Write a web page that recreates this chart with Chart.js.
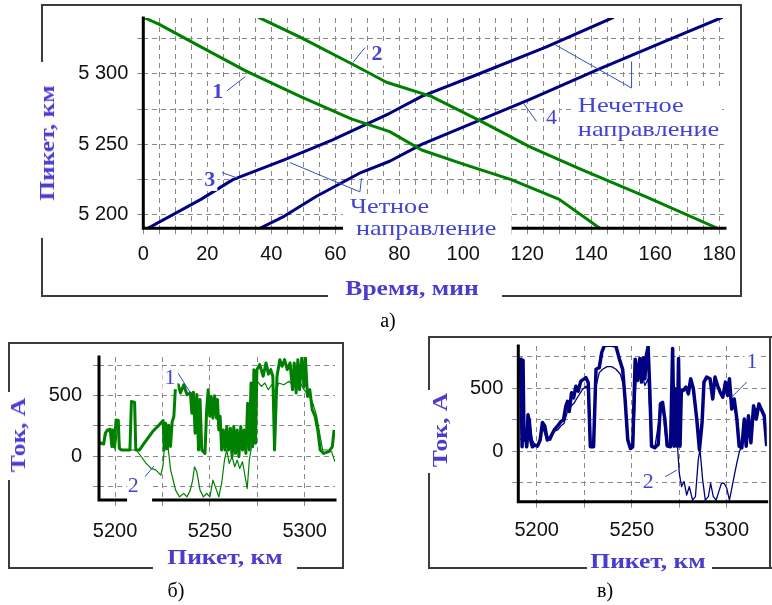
<!DOCTYPE html>
<html lang="ru">
<head>
<meta charset="utf-8">
<title>Графики движения и токи</title>
<script src="https://cdn.jsdelivr.net/npm/chart.js@4.4.1/dist/chart.umd.min.js"></script>
<style>
  html, body { margin: 0; padding: 0; background: #fff; }
  #fig { position: relative; width: 772px; height: 605px; overflow: hidden; }
  #fig canvas { position: absolute; }
  .seg { position: absolute; background: #3c3c3c; }
  .title {
    position: absolute; white-space: nowrap; line-height: 1;
    transform: translate(-50%, -50%) scaleX(1.16);
    font: bold 22px "Liberation Serif", "Times New Roman", serif; color: #4b3ccf;
  }
  .title.vert { transform: translate(-50%, -50%) rotate(-90deg) scaleX(1.16); }
  .cap {
    position: absolute; line-height: 1; transform: translate(-50%, -50%);
    font: 20px "Liberation Serif", "Times New Roman", serif; color: #000;
  }
</style>
</head>
<body>
<div id="fig">
  <!-- frames: а) -->
  <div class="seg" style="left:41px;top:4px;width:701px;height:2px"></div>
  <div class="seg" style="left:740px;top:4px;width:2px;height:293px"></div>
  <div class="seg" style="left:41px;top:295px;width:287px;height:2px"></div>
  <div class="seg" style="left:502px;top:295px;width:240px;height:2px"></div>
  <div class="seg" style="left:41px;top:4px;width:2px;height:58px"></div>
  <div class="seg" style="left:41px;top:238px;width:2px;height:59px"></div>
  <!-- б) -->
  <div class="seg" style="left:8px;top:342px;width:336px;height:2px"></div>
  <div class="seg" style="left:342px;top:342px;width:2px;height:227px"></div>
  <div class="seg" style="left:8px;top:567px;width:145px;height:2px"></div>
  <div class="seg" style="left:297px;top:567px;width:47px;height:2px"></div>
  <div class="seg" style="left:8px;top:342px;width:2px;height:50px"></div>
  <div class="seg" style="left:8px;top:480px;width:2px;height:89px"></div>
  <!-- в) -->
  <div class="seg" style="left:428px;top:336px;width:344px;height:2px"></div>
  <div class="seg" style="left:769px;top:336px;width:2px;height:233px"></div>
  <div class="seg" style="left:428px;top:567px;width:159px;height:2px"></div>
  <div class="seg" style="left:712px;top:567px;width:60px;height:2px"></div>
  <div class="seg" style="left:428px;top:336px;width:2px;height:54px"></div>
  <div class="seg" style="left:428px;top:473px;width:2px;height:96px"></div>

  <canvas id="chartA" width="700" height="291" style="left:41px;top:5px;width:700px;height:291px"></canvas>
  <canvas id="chartB" width="335" height="225" style="left:8px;top:343px;width:335px;height:225px"></canvas>
  <canvas id="chartC" width="344" height="231" style="left:428px;top:337px;width:344px;height:231px"></canvas>

  <div class="title vert" style="left:47px;top:143px">Пикет, км</div>
  <div class="title" style="left:412px;top:288px">Время, мин</div>
  <div class="title vert" style="left:18px;top:435px">Ток, А</div>
  <div class="title" style="left:225px;top:557px">Пикет, км</div>
  <div class="title vert" style="left:440px;top:430px">Ток, А</div>
  <div class="title" style="left:648px;top:561px">Пикет, км</div>

  <div class="cap" style="left:388px;top:320px">а)</div>
  <div class="cap" style="left:176px;top:590px">б)</div>
  <div class="cap" style="left:605px;top:590px">в)</div>
</div>

<script>
// а) train paths: time, min -> picket, km
const A_T1 = [0, 5, 18, 32, 49, 65, 77, 87, 100, 115, 130, 143];
const A_KM1 = [5340, 5335, 5319, 5302, 5284, 5268, 5259, 5246, 5236, 5225, 5211, 5190];
const A_T2 = [36, 49, 66, 76, 90, 105, 121, 137, 157, 180];
const A_KM2 = [5340, 5326, 5306, 5294, 5284, 5267, 5248, 5232, 5213, 5190];
const A_T3 = [1, 18, 28, 44, 59, 77, 87, 105, 126, 147];
const A_KM3 = [5190, 5211, 5225, 5239, 5253, 5272, 5284, 5300, 5319, 5340];
const A_T4 = [36, 44, 54, 68, 77, 87, 105, 121, 142, 163, 181];
const A_KM4 = [5190, 5199, 5213, 5230, 5238, 5250, 5267, 5282, 5303, 5323, 5340];

const A_X_GRID = [0, 5, 10, 15, 20, 25, 30, 35, 40, 45, 50, 55, 60, 65, 70, 75, 80, 85, 90,
  95, 100, 105, 110, 115, 120, 125, 130, 135, 140, 145, 150, 155, 160, 165, 170, 175, 180];
const A_X_LABELS = [0, 20, 40, 60, 80, 100, 120, 140, 160, 180];
const A_Y_GRID = [5200, 5225, 5250, 5275, 5300, 5325];
const A_Y_LABELS = [5200, 5250, 5300];

// б) current of the even-direction trains: picket, km -> current, A
const B_KM1 = [5190.5, 5192.2, 5194.0, 5194.8, 5196.0, 5197.4, 5198.3, 5198.8, 5199.5, 5200.5,
  5201.7, 5202.2, 5203.4, 5207.8, 5208.6, 5210.3, 5210.9, 5212.9, 5214.7, 5217.2,
  5219.8, 5223.3, 5225.3, 5225.9, 5226.7, 5227.5, 5228.3, 5229.2, 5230.1, 5231.0,
  5231.9, 5233.3, 5234.5, 5236.2, 5237.9, 5239.7, 5240.5, 5241.3, 5242.2, 5243.1,
  5244.0, 5244.8, 5245.7, 5247.4, 5248.3, 5249.1, 5249.9, 5250.7, 5251.6, 5252.5,
  5253.5, 5254.0, 5254.7, 5255.4, 5256.2, 5257.1, 5258.0, 5258.9, 5259.8, 5260.8,
  5261.7, 5262.6, 5263.5, 5264.4, 5265.3, 5266.3, 5267.2, 5268.1, 5269.0, 5269.9,
  5270.8, 5271.7, 5272.6, 5273.2, 5274.1, 5274.8, 5276.3, 5278.1, 5279.6, 5280.9,
  5282.1, 5283.2, 5284.1, 5285.4, 5286.9, 5288.1, 5289.4, 5290.8, 5292.3, 5293.6,
  5294.5, 5295.5, 5296.4, 5297.3, 5298.5, 5299.6, 5300.4, 5301.5, 5302.7, 5304.0,
  5305.5, 5306.9, 5308.2, 5310.0, 5312.8, 5314.6, 5315.5];
const B_I1 = [92, 106, 100, 189, 217, 222, 78, 217, 78, 300,
  295, 64, 50, 50, 453, 445, 50, 50, 92, 147,
  203, 259, 295, 50, 272, 60, 255, 80, 285, 328,
  592, 592, 523, 592, 509, 523, 356, 530, 189, 510,
  50, 470, 50, 22, 384, 550, 330, 495, 314, 500,
  314, 470, 217, 330, 50, 217, 50, 245, 50, 231,
  -6, 245, 22, 217, -6, 245, 50, 217, 22, 439,
  50, 606, 78, 717, 106, 717, 759, 662, 773, 680,
  717, 662, 50, 662, 800, 745, 800, 717, 773, 550,
  773, 523, 800, 550, 828, 578, 814, 495, 550, 384,
  328, 217, 50, 22, 36, 78, 217];
const B_KM2 = [5190.5, 5194.0, 5195.7, 5198.3, 5200.0, 5201.7, 5202.6, 5211.2, 5213.8, 5216.4,
  5219.0, 5221.6, 5224.1, 5225.3, 5226.4, 5227.1, 5228.1, 5229.3, 5230.2, 5231.9,
  5234.0, 5236.2, 5237.9, 5239.7, 5240.9, 5241.9, 5243.1, 5244.8, 5246.6, 5248.3,
  5250.0, 5251.6, 5253.5, 5254.7, 5256.2, 5257.7, 5258.9, 5260.2, 5261.7, 5263.1,
  5264.4, 5265.7, 5267.2, 5268.6, 5269.7, 5270.8, 5272.3, 5273.7, 5275.0, 5277.2,
  5279.0, 5280.8, 5282.7, 5284.5, 5286.3, 5289.0, 5291.8, 5294.5, 5297.3, 5299.1,
  5300.9, 5302.7, 5304.6, 5306.4, 5308.2, 5309.5, 5311.9, 5314.2, 5315.9];
const B_I2 = [120, 111, 203, 217, 50, 286, 50, 50, -6, -61,
  -103, -117, -158, -75, 189, 217, 50, -117, -172, -283,
  -339, -311, -339, -283, -200, -89, -131, -283, -339, -311,
  -339, -200, -283, -339, -228, -33, 50, -61, -6, -89,
  -33, -103, -47, -172, -270, -33, 106, 467, 620, 578,
  606, 550, 592, 523, 606, 592, 620, 578, 620, 564,
  523, 495, 425, 328, 161, 50, 50, 36, -47];

// в) current of the odd-direction trains
const C_KM1 = [5191.5, 5192.3, 5192.8, 5193.3, 5194.0, 5194.7, 5195.4, 5196.1, 5196.8, 5197.7,
  5198.9, 5200.4, 5201.8, 5203.0, 5204.2, 5205.6, 5207.4, 5209.2, 5211.0, 5212.7,
  5214.1, 5215.3, 5216.2, 5217.1, 5218.3, 5219.4, 5220.6, 5221.8, 5223.2, 5224.6,
  5225.9, 5227.1, 5228.2, 5229.9, 5231.2, 5232.9, 5234.2, 5235.6, 5239.1, 5241.7,
  5243.5, 5245.2, 5246.5, 5247.9, 5249.3, 5250.5, 5251.8, 5253.0, 5254.2, 5255.1,
  5256.0, 5256.9, 5257.7, 5258.6, 5259.5, 5260.4, 5262.1, 5263.9, 5265.1, 5266.2,
  5267.4, 5268.7, 5270.4, 5271.5, 5272.3, 5273.1, 5273.9, 5274.6, 5275.4, 5276.1,
  5277.1, 5278.5, 5279.8, 5281.0, 5282.4, 5284.2, 5285.6, 5287.0, 5288.0, 5289.4,
  5291.2, 5292.6, 5293.8, 5295.1, 5296.5, 5297.9, 5299.3, 5300.4, 5301.4, 5302.6,
  5303.9, 5305.3, 5306.5, 5307.9, 5309.2, 5310.2, 5311.4, 5312.7, 5314.1, 5315.5,
  5316.9, 5318.5, 5319.7, 5321.0];
const C_I1 = [742, 35, 720, 88, 142, 35, 288, 240, 88, 35,
  48, 40, 88, 227, 200, 88, 115, 168, 200, 235,
  248, 355, 395, 315, 462, 422, 515, 475, 555, 569,
  582, 542, 35, 35, 649, 662, 782, 836, 841, 830,
  729, 649, 408, 88, 21, 35, 729, 560, 734, 547,
  740, 574, 760, 828, 480, 40, 27, 53, 374, 387,
  254, 40, 35, 814, 40, 494, 40, 734, 40, 480,
  481, 507, 454, 574, 494, 254, 13, 227, 547, 587,
  574, 414, 587, 521, 467, 427, 547, 441, 574, 334,
  414, 254, 40, 27, 254, 40, 280, 67, 360, 254,
  374, 320, 280, 40];
const C_KM2 = [5191.5, 5193.3, 5195.1, 5196.5, 5197.7, 5199.5, 5201.2, 5203.0, 5205.3, 5207.4,
  5208.8, 5211.0, 5212.7, 5214.4, 5216.2, 5218.0, 5219.7, 5221.8, 5224.1, 5225.9,
  5227.1, 5228.2, 5229.9, 5231.2, 5232.9, 5234.7, 5237.0, 5239.4, 5241.7, 5244.0,
  5245.8, 5247.2, 5248.2, 5249.6, 5250.9, 5252.3, 5255.1, 5256.9, 5258.6, 5260.4,
  5262.1, 5264.4, 5266.2, 5268.3, 5270.4, 5271.8, 5273.6, 5275.0, 5276.2, 5277.5,
  5278.9, 5280.3, 5282.0, 5283.5, 5285.0, 5285.9, 5287.3, 5288.7, 5290.3, 5291.5,
  5292.9, 5294.4, 5295.8, 5297.2, 5298.6, 5300.0, 5301.4, 5302.8, 5304.2, 5305.3,
  5306.7, 5307.9, 5309.7, 5311.4, 5313.2, 5315.0, 5317.3, 5319.4, 5321.0];
const C_I2 = [88, 142, 35, 222, 88, 40, 61, 195, 88, 88,
  155, 168, 200, 222, 315, 355, 382, 435, 489, 515,
  480, 35, 35, 515, 622, 649, 670, 670, 649, 609,
  515, 248, 61, 29, 88, 569, 627, 520, 574, 40,
  27, 254, 360, 40, 35, 360, 147, -174, -280, -240,
  -347, -280, -387, -360, -67, 13, -227, -387, -360, -254,
  -360, -387, -320, -254, -254, -294, -387, -280, -174, -93,
  0, 40, 227, 240, 200, 334, 347, 280, 40];

const BC_X_GRID = [5200, 5225, 5250, 5275, 5300];
const BC_X_LABELS = [5200, 5250, 5300];
const BC_Y_GRID = [-250, 0, 250, 500, 750];
const BC_Y_LABELS = [0, 500];

const GREEN = "#008000";
const NAVY = "#000080";
const GRID = "#8a8a8a";
const NOTE = "#4343d3";
const LEADER = "#2f4fc0";
const TICK_FONT = { family: '"Liberation Sans", Arial, sans-serif', size: 20 };
const SERIF = '"Liberation Serif", "Times New Roman", serif';

function series(xs, ys, color, width) {
  return {
    data: xs.map((x, i) => ({ x, y: ys[i] })),
    borderColor: color,
    borderWidth: width,
    showLine: true,
    pointRadius: 0,
    fill: false,
    tension: 0,
    borderJoinStyle: "round",
  };
}

// Linear axis with fixed grid values and a fixed thickness so the plot box lands where we want
function axis(min, max, gridVals, labelVals, fmt, pad, size, horizontal) {
  return {
    type: "linear",
    min,
    max,
    afterBuildTicks: (s) => {
      s.ticks = gridVals.map((v) => ({ value: v }));
    },
    afterFit: (s) => {
      if (horizontal) s.height = size;
      else s.width = size;
      s.paddingLeft = s.paddingRight = s.paddingTop = s.paddingBottom = 0;
    },
    grid: { color: GRID, lineWidth: 1, drawTicks: true, tickLength: 6, tickColor: GRID },
    border: { display: false, dash: [5, 4] },
    ticks: {
      autoSkip: false,
      maxRotation: 0,
      padding: pad,
      color: "#111",
      font: TICK_FONT,
      callback: (v) => (labelVals.includes(v) ? fmt(v) : ""),
    },
  };
}

// Thick axes, white masks under captions, leader lines and numbers
const notesPlugin = {
  id: "notes",
  afterDatasetsDraw(chart, args, opts) {
    const { ctx, chartArea: a } = chart;
    const px = (v) => chart.scales.x.getPixelForValue(v);
    const py = (v) => chart.scales.y.getPixelForValue(v);
    ctx.save();

    ctx.strokeStyle = "#000";
    ctx.lineWidth = 3;
    ctx.lineCap = "square";
    ctx.beginPath();
    ctx.moveTo(a.left, a.top);
    ctx.lineTo(a.left, a.bottom);
    ctx.lineTo(a.right, a.bottom);
    ctx.stroke();

    ctx.fillStyle = "#fff";
    (opts.masks || []).forEach(([x0, y0, x1, y1]) => {
      const l = px(x0), r = px(x1), t = py(y1), b = py(y0);
      ctx.fillRect(l, t, r - l, b - t);
    });

    ctx.strokeStyle = LEADER;
    ctx.lineWidth = 1;
    ctx.lineCap = "butt";
    (opts.leaders || []).forEach((pts) => {
      ctx.beginPath();
      pts.forEach(([vx, vy], i) => {
        if (i) ctx.lineTo(px(vx), py(vy));
        else ctx.moveTo(px(vx), py(vy));
      });
      ctx.stroke();
    });

    (opts.labels || []).forEach((l) => {
      const k = l.stretch || 1;
      ctx.font = `${l.bold ? "bold " : ""}${l.size || 22}px ${SERIF}`;
      ctx.textAlign = l.align || "center";
      ctx.textBaseline = "middle";
      const x = px(l.x), y = py(l.y);
      if (l.bg) {
        const w = ctx.measureText(l.text).width * k;
        const left = l.align === "left" ? x : x - w / 2;
        ctx.fillStyle = "#fff";
        ctx.fillRect(left - 2, y - 11, w + 4, 22);
      }
      ctx.save();
      ctx.translate(x, y);
      ctx.scale(k, 1);
      ctx.fillStyle = NOTE;
      ctx.fillText(l.text, 0, 0);
      ctx.restore();
    });

    ctx.restore();
  },
};

function makeChart(id, cfg) {
  return new Chart(document.getElementById(id), {
    type: "scatter",
    data: { datasets: cfg.datasets },
    options: {
      responsive: false,
      animation: false,
      devicePixelRatio: 1,
      events: [],
      layout: { padding: cfg.padding },
      scales: { x: cfg.x, y: cfg.y },
      plugins: {
        legend: { display: false },
        tooltip: { enabled: false },
        notes: cfg.notes,
      },
    },
    plugins: [notesPlugin],
  });
}

const plain = (v) => String(v);
const spaced = (v) => String(v).replace(/^(\d)(\d{3})$/, "$1 $2");

makeChart("chartA", {
  datasets: [
    series(A_T1, A_KM1, GREEN, 3),
    series(A_T2, A_KM2, GREEN, 3),
    series(A_T3, A_KM3, NAVY, 3),
    series(A_T4, A_KM4, NAVY, 3),
  ],
  padding: { left: 0, top: 13, right: 16, bottom: 0 },
  x: axis(0, 181.8, A_X_GRID, A_X_LABELS, plain, 8, 67.7, true),
  y: axis(5190.5, 5339.5, A_Y_GRID, A_Y_LABELS, spaced, 9, 102.3, false),
  notes: {
    masks: [
      [62.4, 5182.3, 115.1, 5214.2],
      [134.9, 5251.1, 180.9, 5288.7],
    ],
    leaders: [
      [[26.2, 5288], [31.9, 5298]],
      [[65.5, 5308], [69.3, 5318.5]],
      [[24.6, 5230], [29.3, 5226.2]],
      [[122.9, 5266.2], [118.8, 5279.2]],
      [[128.7, 5320.6], [152.6, 5289.9], [152.6, 5308.7]],
      [[45.8, 5237.1], [67.7, 5216.3], [68.2, 5226]],
    ],
    labels: [
      { text: "1", x: 23.3, y: 5287, bold: true, bg: true },
      { text: "2", x: 73, y: 5313.5, bold: true, bg: true },
      { text: "3", x: 20.8, y: 5224.8, bold: true, bg: true },
      { text: "4", x: 127.6, y: 5268.8, bg: true },
      { text: "Нечетное", x: 135.8, y: 5276.8, align: "left", stretch: 1.2 },
      { text: "направление", x: 135.8, y: 5260.3, align: "left", stretch: 1.2 },
      { text: "Четное", x: 64.6, y: 5205.7, align: "left", stretch: 1.19 },
      { text: "направление", x: 66.5, y: 5190, align: "left", stretch: 1.19 },
    ],
  },
});

makeChart("chartB", {
  datasets: [series(B_KM1, B_I1, GREEN, 3), series(B_KM2, B_I2, GREEN, 1.2)],
  padding: { left: 0, top: 14, right: 8, bottom: 0 },
  x: axis(5191.5, 5316, BC_X_GRID, BC_X_LABELS, plain, 13, 68, true),
  y: axis(-365, 822, BC_Y_GRID, BC_Y_LABELS, plain, 11, 91, false),
  notes: {
    masks: [[5206.3, -390, 5219.5, -157]],
    leaders: [
      [[5233.2, 688], [5240.5, 505]],
      [[5215.8, -171], [5220.5, -83]],
    ],
    labels: [
      { text: "1", x: 5228.9, y: 646, bg: true },
      { text: "2", x: 5209.6, y: -254 },
    ],
  },
});

makeChart("chartC", {
  datasets: [series(C_KM1, C_I1, NAVY, 3.5), series(C_KM2, C_I2, NAVY, 1.3)],
  padding: { left: 0, top: 9, right: 5.3, bottom: 0 },
  x: axis(5190.3, 5321, BC_X_GRID, BC_X_LABELS, plain, 11, 66.3, true),
  y: axis(-400, 833, BC_Y_GRID, BC_Y_LABELS, plain, 9, 90.3, false),
  notes: {
    leaders: [
      [[5310.5, 548], [5302.6, 429]],
      [[5267.5, -203], [5273.7, -150]],
    ],
    labels: [
      { text: "1", x: 5313.2, y: 706, bg: true },
      { text: "2", x: 5258.7, y: -243, bg: true },
    ],
  },
});
</script>
</body>
</html>
